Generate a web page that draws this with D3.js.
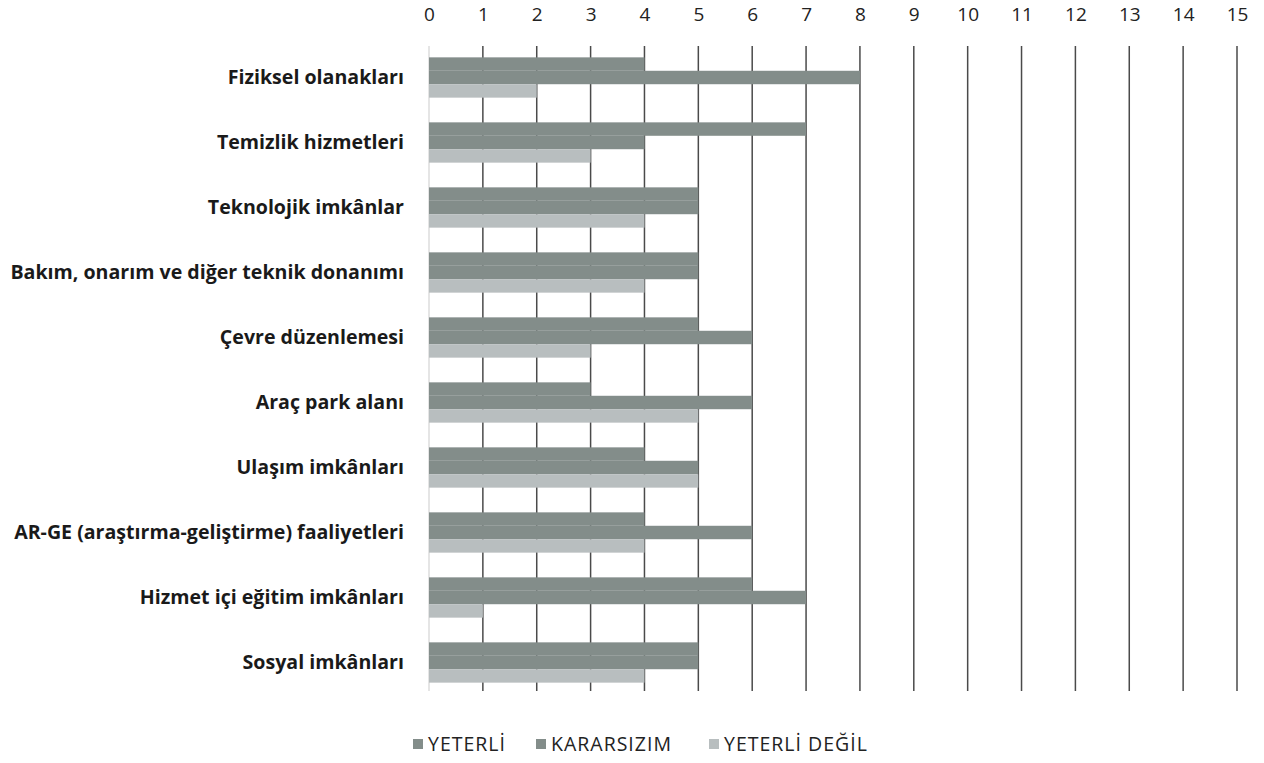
<!DOCTYPE html>
<html>
<head>
<meta charset="utf-8">
<script src="https://cdn.jsdelivr.net/npm/d3@7"></script>
<style>
  body { margin: 0; background: #fff; }
  svg { display: block; }
</style>
</head>
<body>
<svg id="chart" width="1264" height="763"></svg>
<script>
var width = 1264;
var height = 763;

// categories top to bottom
var categories = [
  "Fiziksel olanakları",
  "Temizlik hizmetleri",
  "Teknolojik imkânlar",
  "Bakım, onarım ve diğer teknik donanımı",
  "Çevre düzenlemesi",
  "Araç park alanı",
  "Ulaşım imkânları",
  "AR-GE (araştırma-geliştirme) faaliyetleri",
  "Hizmet içi eğitim imkânları",
  "Sosyal imkânları"
];

var seriesNames = ["YETERLİ", "KARARSIZIM", "YETERLİ DEĞİL"];
var yeterli     = [4, 7, 5, 5, 5, 3, 4, 4, 6, 5];
var kararsizim  = [8, 4, 5, 5, 6, 6, 5, 6, 7, 5];
var yeterliDegil = [2, 3, 4, 4, 3, 5, 5, 4, 1, 4];
var xTicks = d3.range(0, 16);

var colors = ["#838d8a", "#838d8a", "#b8bebf"];

var margin = {top: 45, right: 27, bottom: 68, left: 429};
var font = "'Open Sans', Lato, sans-serif";

var svg = d3.select("#chart");

var x = d3.scaleLinear()
    .domain([0, 15])
    .range([margin.left, width - margin.right]);

var y = d3.scaleBand()
    .domain(categories)
    .range([margin.top, height - margin.bottom])
    .paddingInner(0.38)
    .paddingOuter(0.19);

var ySub = d3.scaleBand()
    .domain(seriesNames)
    .range([0, y.bandwidth()]);

// gridlines
svg.append("g")
  .selectAll("line")
  .data(xTicks)
  .enter()
  .append("line")
    .attr("x1", function(d) { return x(d); })
    .attr("x2", function(d) { return x(d); })
    .attr("y1", margin.top + 1)
    .attr("y2", height - margin.bottom - 4)
    .attr("stroke", function(d) { return d == 0 ? "#dcdcdc" : "#4a4a4a"; })
    .attr("stroke-width", 1.5);

// top axis labels
var xAxis = d3.axisTop(x)
    .tickValues(xTicks)
    .tickSize(0)
    .tickPadding(0);

svg.append("g")
    .attr("transform", "translate(0,21)")
    .call(xAxis)
    .call(function(g) { g.select(".domain").remove(); })
    .selectAll("text")
      .attr("font-family", font)
      .attr("font-size", "19px")
      .attr("fill", "#222");

// bars
var rows = categories.map(function(c, i) {
  return {cat: c, values: [yeterli[i], kararsizim[i], yeterliDegil[i]]};
});

var groups = svg.append("g")
  .selectAll("g")
  .data(rows)
  .enter()
  .append("g")
    .attr("transform", function(d) { return "translate(0," + y(d.cat) + ")"; });

groups.selectAll("rect")
  .data(function(d) {
    return d.values.map(function(v, j) { return {name: seriesNames[j], value: v, j: j}; });
  })
  .enter()
  .append("rect")
    .attr("x", x(0))
    .attr("y", function(d) { return ySub(d.name); })
    .attr("width", function(d) { return x(d.value) - x(0); })
    .attr("height", ySub.bandwidth())
    .attr("fill", function(d) { return colors[d.j]; });

// category labels
var yAxis = d3.axisLeft(y)
    .tickSize(0)
    .tickPadding(25);

svg.append("g")
    .attr("transform", "translate(" + margin.left + ",0)")
    .call(yAxis)
    .call(function(g) { g.select(".domain").remove(); })
    .selectAll("text")
      .attr("font-family", font)
      .attr("font-weight", "bold")
      .attr("font-size", "19.6px")
      .attr("fill", "#1a1a1a");

// legend
var legendX = [413, 536, 709];
var legend = svg.append("g")
  .selectAll("g")
  .data(seriesNames)
  .enter()
  .append("g")
    .attr("transform", function(d, i) { return "translate(" + legendX[i] + ",744)"; });

legend.append("rect")
    .attr("x", 0)
    .attr("y", -5)
    .attr("width", 10)
    .attr("height", 10)
    .attr("fill", function(d, i) { return colors[i]; });

legend.append("text")
    .attr("x", 15)
    .attr("dy", "0.36em")
    .attr("font-family", font)
    .attr("font-size", "19.5px")
    .attr("letter-spacing", "1px")
    .attr("fill", "#222")
    .text(function(d) { return d; });
</script>
</body>
</html>
